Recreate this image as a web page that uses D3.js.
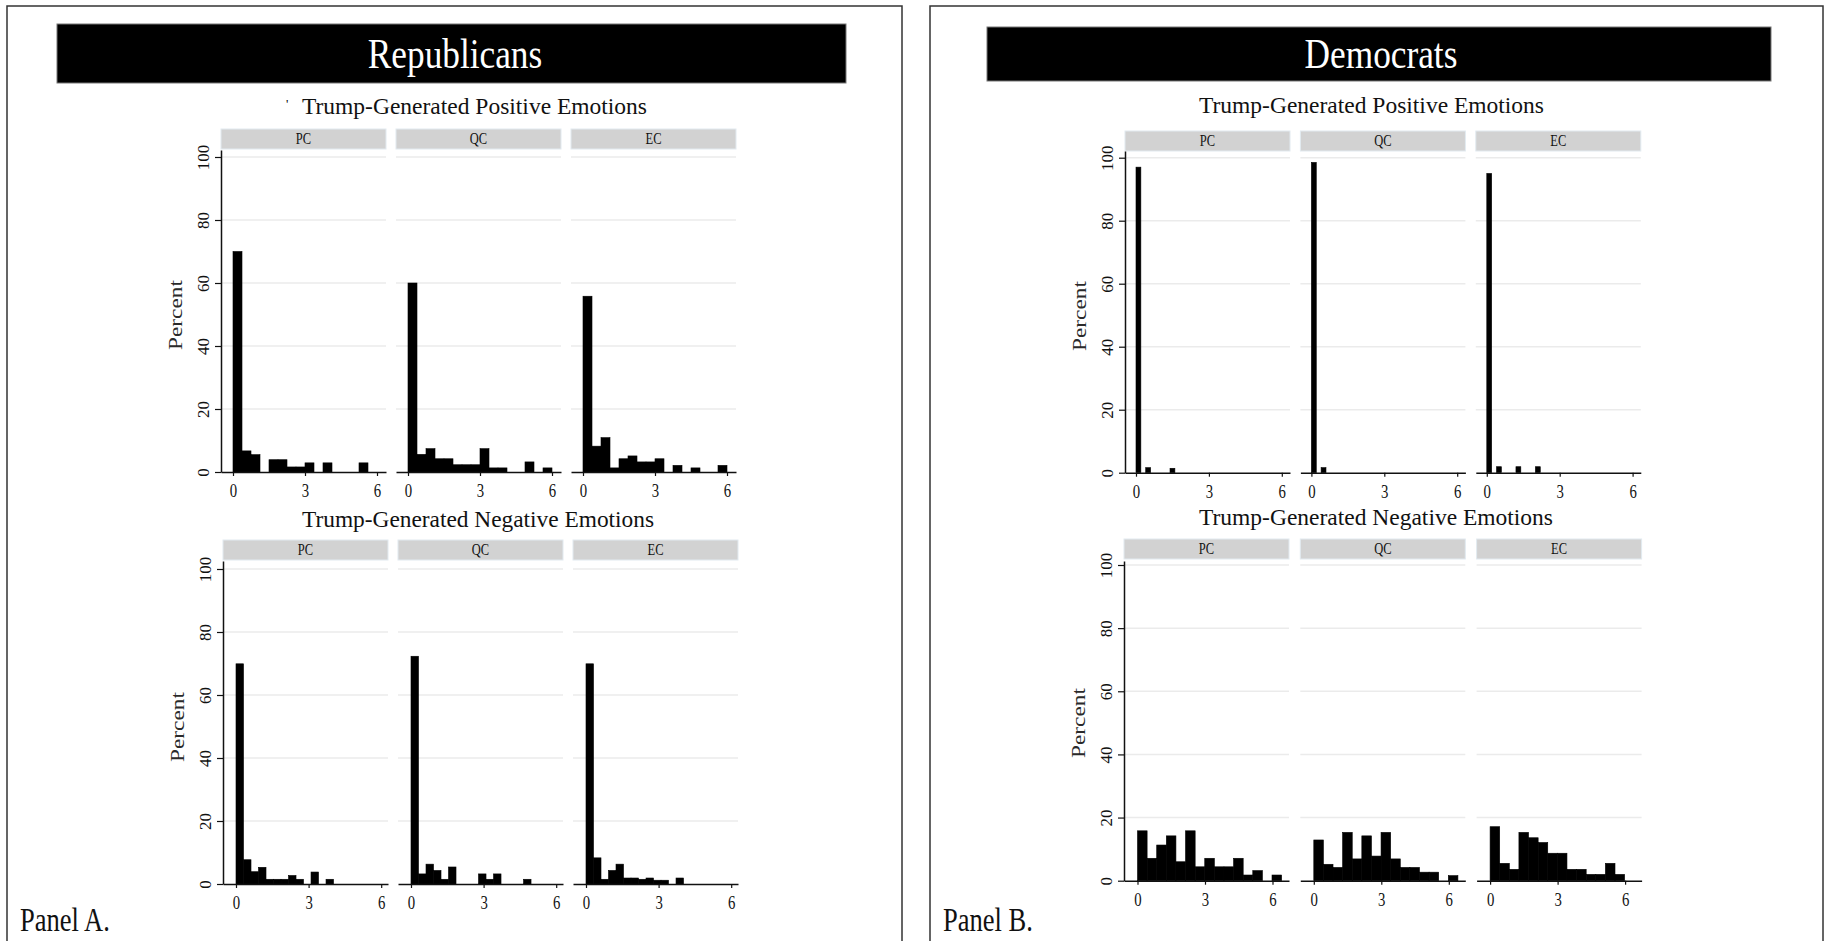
<!DOCTYPE html>
<html>
<head>
<meta charset="utf-8">
<script src="https://cdn.jsdelivr.net/npm/d3@7"></script>
<style>
  body { margin: 0; background: #fff; }
  svg { display: block; }
  text { font-family: "Liberation Serif", "Times New Roman", serif; }
</style>
</head>
<body>
<script>
// facets and ticks shared by every histogram
const facets = ['PC', 'QC', 'EC'];
const xTickValues = [0, 3, 6];
const yTickValues = [0, 20, 40, 60, 80, 100];
const gridValues = [20, 40, 60, 80, 100];

// Republicans, positive emotions (percent per bin, bins start at 0)
const repPosBin = 0.375;
const repPosPC = [70, 6.7, 5.5, 0, 3.9, 3.9, 1.6, 1.6, 2.9, 0, 2.9, 0, 0, 0, 2.9];
const repPosQC = [60, 5.6, 7.4, 4.2, 4.2, 2.3, 2.3, 2.3, 7.4, 1.3, 1.3, 0, 0, 3.2, 0, 1.3];
const repPosEC = [55.8, 8.2, 10.9, 1.3, 4.2, 5.1, 3.2, 3.2, 4.2, 0, 2.1, 0, 1.3, 0, 0, 2.1];

// Republicans, negative emotions
const repNegBin = 0.31;
const repNegPC = [69.9, 7.7, 3.9, 5.3, 1.5, 1.5, 1.5, 2.7, 1.5, 0, 3.8, 0, 1.5];
const repNegQC = [72.3, 3.2, 6.3, 4.3, 1.5, 5.4, 0, 0, 0, 3.2, 1.5, 3.2, 0, 0, 0, 1.5];
const repNegEC = [69.9, 8.3, 1.5, 4.3, 6.3, 1.9, 1.9, 1.5, 1.9, 1.2, 1.2, 0, 1.9];

// Democrats, positive emotions
const demPosBin = 0.2;
const demPosPC = [97, 0, 1.6, 0, 0, 0, 0, 1.4];
const demPosQC = [98.5, 0, 1.6];
const demPosEC = [95, 0, 1.9, 0, 0, 0, 1.9, 0, 0, 0, 1.9];

// Democrats, negative emotions
const demNegBin = 0.427;
const demNegPC = [15.8, 7.1, 11.3, 14.2, 6.0, 15.8, 4.4, 7.1, 4.4, 4.4, 7.1, 1.8, 3.2, 0, 1.8];
const demNegQC = [12.9, 5.2, 4.2, 15.3, 6.9, 14.2, 7.8, 15.3, 6.9, 4.2, 4.2, 2.7, 2.7, 0, 1.6];
const demNegEC = [17.1, 5.5, 3.6, 15.3, 13.6, 12.1, 8.7, 8.7, 3.6, 3.6, 2.0, 2.0, 5.5, 2.0];

const W = 1832, H = 941;
const svg = d3.select('body').append('svg')
  .attr('width', W)
  .attr('height', H);

// the source uses a narrow Times; squeeze text to a share of its natural width
function condense(sel, factor) {
  sel.each(function () {
    const len = this.getComputedTextLength();
    d3.select(this)
      .attr('textLength', len * factor)
      .attr('lengthAdjust', 'spacingAndGlyphs');
  });
}

// the two panel frames
const panels = [
  { name: 'Republicans', label: 'Panel A.', frameX: 7, frameW: 895,
    bar: [57, 24, 789, 59], nameX: 455, labelX: 20 },
  { name: 'Democrats', label: 'Panel B.', frameX: 930, frameW: 893,
    bar: [987, 27, 784, 54], nameX: 1381, labelX: 943 },
];

panels.forEach((p) => {
  svg.append('rect')
    .attr('x', p.frameX).attr('y', 6)
    .attr('width', p.frameW).attr('height', H + 20)
    .attr('fill', 'none').attr('stroke', '#333').attr('stroke-width', 1.5);
  svg.append('rect')
    .attr('x', p.bar[0]).attr('y', p.bar[1])
    .attr('width', p.bar[2]).attr('height', p.bar[3])
    .attr('fill', '#000').attr('stroke', '#777').attr('stroke-width', 1);
  svg.append('text')
    .attr('x', p.nameX).attr('y', 68)
    .attr('text-anchor', 'middle')
    .attr('fill', '#fff')
    .attr('font-size', 42)
    .text(p.name)
    .call(condense, 0.84);
  svg.append('text')
    .attr('x', p.labelX).attr('y', 931)
    .attr('font-size', 34)
    .attr('fill', '#111')
    .text(p.label)
    .call(condense, 0.78);
});

// stray mark left of the first title
svg.append('text')
  .attr('x', 286).attr('y', 108)
  .attr('font-size', 13)
  .text("'");

// one row = three facets of one histogram
const rows = [
  { title: 'Trump-Generated Positive Emotions', bin: repPosBin,
    series: [repPosPC, repPosQC, repPosEC],
    left: 221, step: 175, x0: 12, k: 24,
    base: 472, y100: 157, top: 150, stripTop: 129,
    titleX: 302, titleY: 114, titleW: 345, percentY: 315 },
  { title: 'Trump-Generated Negative Emotions', bin: repNegBin,
    series: [repNegPC, repNegQC, repNegEC],
    left: 223, step: 175, x0: 13, k: 24.2,
    base: 884, y100: 569, top: 561, stripTop: 540,
    titleX: 302, titleY: 527, titleW: 352, percentY: 727 },
  { title: 'Trump-Generated Positive Emotions', bin: demPosBin,
    series: [demPosPC, demPosQC, demPosEC],
    left: 1125, step: 175.4, x0: 11, k: 24.3,
    base: 472.7, y100: 157.7, top: 151, stripTop: 131,
    titleX: 1199, titleY: 113, titleW: 345, percentY: 316 },
  { title: 'Trump-Generated Negative Emotions', bin: demNegBin,
    series: [demNegPC, demNegQC, demNegEC],
    left: 1124, step: 176.3, x0: 13.5, k: 22.5,
    base: 880.7, y100: 565, top: 561, stripTop: 539,
    titleX: 1199, titleY: 525, titleW: 354, percentY: 723 },
];

const panelW = 165;

rows.forEach((r) => {
  const g = svg.append('g');

  g.append('text')
    .attr('x', r.titleX).attr('y', r.titleY)
    .attr('font-size', 24)
    .attr('textLength', r.titleW)
    .attr('lengthAdjust', 'spacingAndGlyphs')
    .attr('fill', '#111')
    .text(r.title);

  // same mapping as 0..100 -> base..y100, extended up to the plot top
  const topVal = 100 * (r.base - r.top) / (r.base - r.y100);
  const y = d3.scaleLinear().domain([0, topVal]).range([r.base, r.top]);

  // y title
  g.append('text')
    .attr('transform', `translate(${r.left - 39},${r.percentY}) rotate(-90)`)
    .attr('text-anchor', 'middle')
    .attr('font-family', 'Liberation Sans, Arial, sans-serif')
    .attr('font-size', 19)
    .attr('textLength', 70)
    .attr('lengthAdjust', 'spacingAndGlyphs')
    .attr('fill', '#2a2a2a')
    .text('Percent');

  facets.forEach((f, i) => {
    const left = r.left + i * r.step;
    const x = d3.scaleLinear()
      .domain([-r.x0 / r.k, (panelW - r.x0) / r.k])
      .range([left, left + panelW]);

    // facet strip
    g.append('rect')
      .attr('x', left).attr('y', r.stripTop)
      .attr('width', panelW).attr('height', 20)
      .attr('fill', '#d2d2d2')
      .attr('stroke', '#e2eaf0').attr('stroke-width', 1);
    g.append('text')
      .attr('x', left + panelW / 2).attr('y', r.stripTop + 15)
      .attr('text-anchor', 'middle')
      .attr('font-size', 16)
      .attr('fill', '#111')
      .text(f)
      .call(condense, 0.78);

    // gridlines
    g.append('g').selectAll('line')
      .data(gridValues)
      .join('line')
      .attr('x1', left).attr('x2', left + panelW)
      .attr('y1', (d) => y(d)).attr('y2', (d) => y(d))
      .attr('stroke', '#ebebeb').attr('stroke-width', 1.5);

    // bars
    const bins = r.series[i]
      .map((v, j) => ({ a: j * r.bin, b: (j + 1) * r.bin, v }))
      .filter((d) => d.v > 0);
    g.append('g').selectAll('rect')
      .data(bins)
      .join('rect')
      .attr('x', (d) => x(d.a))
      .attr('width', (d) => x(d.b) - x(d.a))
      .attr('y', (d) => y(d.v))
      .attr('height', (d) => y(0) - y(d.v))
      .attr('fill', '#000')
      .attr('stroke', '#000')
      .attr('stroke-width', 0.6);

    // x axis
    const xa = g.append('g')
      .attr('transform', `translate(0,${r.base})`)
      .call(d3.axisBottom(x)
        .tickValues(xTickValues)
        .tickFormat(d3.format('d'))
        .tickSize(4)
        .tickSizeOuter(0));
    xa.select('.domain').attr('stroke', '#111').attr('stroke-width', 1.5);
    xa.selectAll('.tick line').attr('stroke', '#111').attr('stroke-width', 1.2);
    xa.selectAll('.tick text')
      .attr('y', 25).attr('dy', null)
      .attr('font-family', 'Liberation Serif, serif')
      .attr('font-size', 18)
      .attr('fill', '#111')
      .call(condense, 0.82);

    // y axis only on the first facet
    if (i === 0) {
      const ya = g.append('g')
        .attr('transform', `translate(${left},0)`)
        .call(d3.axisLeft(y)
          .tickValues(yTickValues)
          .tickFormat(d3.format('d'))
          .tickSize(6)
          .tickSizeOuter(0));
      ya.select('.domain').attr('stroke', '#111').attr('stroke-width', 1.5);
      ya.selectAll('.tick line').attr('stroke', '#111').attr('stroke-width', 1.2);
      ya.selectAll('.tick text')
        .attr('x', null).attr('dy', null)
        .attr('transform', 'translate(-12.5,0) rotate(-90)')
        .attr('text-anchor', 'middle')
        .attr('font-family', 'Liberation Serif, serif')
        .attr('font-size', 17)
        .attr('fill', '#111');
    }
  });
});
</script>
</body>
</html>
